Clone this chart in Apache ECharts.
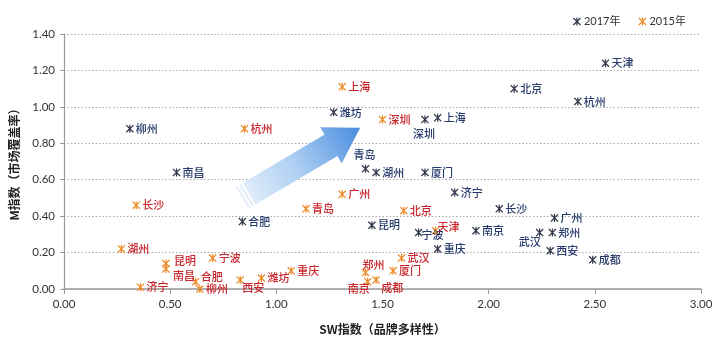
<!DOCTYPE html>
<html>
<head>
<meta charset="utf-8">
<script src="https://cdn.jsdelivr.net/npm/echarts@6/dist/echarts.min.js"></script>
<style>
  html, body { margin: 0; padding: 0; background: #ffffff; }
  #chart { width: 720px; height: 340px; }
</style>
</head>
<body>
<div id="chart"></div>
<script>
// 2017 city scores: SW index (brand diversity) vs M index (market coverage)
const cities2017 = ['天津','北京','杭州','上海','深圳','潍坊','柳州','青岛','湖州','厦门','南昌','合肥','济宁','长沙','广州','郑州','武汉','西安','成都','南京','宁波','重庆','昆明'];
const sw2017 = [2.55, 2.12, 2.42, 1.76, 1.70, 1.27, 0.31, 1.42, 1.47, 1.70, 0.53, 0.84, 1.84, 2.05, 2.31, 2.30, 2.24, 2.29, 2.49, 1.94, 1.67, 1.76, 1.45];
const m2017  = [1.24, 1.10, 1.03, 0.94, 0.93, 0.97, 0.88, 0.66, 0.64, 0.64, 0.64, 0.37, 0.53, 0.44, 0.39, 0.31, 0.31, 0.21, 0.16, 0.32, 0.31, 0.22, 0.35];

// 2015 city scores
const cities2015 = ['上海','杭州','深圳','长沙','湖州','昆明','南昌','宁波','合肥','柳州','济宁','西安','潍坊','重庆','青岛','广州','北京','天津','武汉','厦门','郑州','南京','成都'];
const sw2015 = [1.31, 0.85, 1.50, 0.34, 0.27, 0.48, 0.48, 0.70, 0.62, 0.64, 0.36, 0.83, 0.93, 1.07, 1.14, 1.31, 1.60, 1.75, 1.59, 1.55, 1.42, 1.43, 1.47];
const m2015  = [1.11, 0.88, 0.93, 0.46, 0.22, 0.14, 0.11, 0.17, 0.04, 0.00, 0.01, 0.05, 0.06, 0.10, 0.44, 0.52, 0.43, 0.32, 0.17, 0.10, 0.09, 0.04, 0.05];

const seriesNames = ['2017年', '2015年'];
const xTicks = { min: 0, max: 3, step: 0.5 };
const yTicks = { min: 0, max: 1.4, step: 0.2 };

// label nudges (label centre relative to the marker centre, px) where the default right-side label would collide
const labelShift2017 = { '青岛': [-1, -14], '深圳': [-1, 14], '武汉': [-10, 9], '宁波': [14, 2] };
const labelShift2015 = { '南京': [-9, 7], '郑州': [8, -8], '南昌': [18, 7], '昆明': [19, -3], '西安': [13, 8], '成都': [16, 8], '天津': [13, -4], '合肥': [16, -5] };

// asterisk marker: one vertical bar plus two diagonals
const starPath = 'path://M4.25,0L5.75,0L5.75,10L4.25,10Z M0,1.1L1.1,0L10,8.9L8.9,10Z M8.9,0L10,1.1L1.1,10L0,8.9Z';

const COLOR_2017 = '#30374a';
const LABEL_2017 = '#263a6b';
const COLOR_2015 = '#ee8a25';
const LABEL_2015 = '#c8242b';
const LABEL_FONT = '"Noto Sans CJK SC", "Noto Sans", sans-serif';

function buildPoints(names, xs, ys, shifts) {
  return names.map(function (n, i) {
    const item = { name: n, value: [xs[i], ys[i]] };
    if (shifts[n]) {
      item.label = { position: 'inside', offset: shifts[n], align: 'center', verticalAlign: 'middle' };
    }
    return item;
  });
}

function scatterSeries(name, data, markColor, labelColor) {
  return {
    name: name,
    type: 'scatter',
    symbol: starPath,
    symbolSize: 8,
    itemStyle: { color: markColor, opacity: 1 },
    label: {
      show: true,
      position: 'right',
      distance: 2,
      formatter: '{b}',
      color: labelColor,
      fontFamily: LABEL_FONT,
      fontWeight: 500,
      fontSize: 11
    },
    emphasis: { disabled: true },
    data: data
  };
}

const chart = echarts.init(document.getElementById('chart'), null, { renderer: 'canvas' });

chart.setOption({
  animation: false,
  backgroundColor: '#ffffff',
  grid: { left: 57, right: 19, top: 34, bottom: 51 },
  legend: {
    data: [
      { name: seriesNames[0], icon: starPath },
      { name: seriesNames[1], icon: starPath }
    ],
    top: 11,
    right: 29,
    itemWidth: 8,
    itemHeight: 8,
    itemGap: 18,
    textStyle: { color: '#333333', fontSize: 11, padding: [0, 0, 0, -2], fontFamily: 'Lato, "Noto Sans CJK SC", sans-serif' }
  },
  xAxis: {
    type: 'value',
    min: xTicks.min,
    max: xTicks.max,
    interval: xTicks.step,
    name: 'SW指数（品牌多样性）',
    nameLocation: 'middle',
    nameGap: 34,
    nameTextStyle: { color: '#222222', fontSize: 12, fontWeight: 'bold', fontFamily: LABEL_FONT },
    axisLine: { show: true, lineStyle: { color: '#9a9a9a', width: 1.6 } },
    axisTick: { show: true, length: 5, lineStyle: { color: '#9a9a9a' } },
    axisLabel: {
      margin: 9,
      color: '#333333',
      fontSize: 11.5,
      fontFamily: 'Lato, sans-serif',
      formatter: function (v) { return v.toFixed(2); }
    },
    splitLine: { show: false }
  },
  yAxis: {
    type: 'value',
    min: yTicks.min,
    max: yTicks.max,
    interval: yTicks.step,
    name: 'M指数（市场覆盖率）',
    nameLocation: 'middle',
    nameGap: 44,
    nameTextStyle: { color: '#222222', fontSize: 12, fontWeight: 'bold', fontFamily: LABEL_FONT },
    axisLine: { show: true, lineStyle: { color: '#9a9a9a', width: 1.2 } },
    axisTick: { show: true, length: 4, lineStyle: { color: '#9a9a9a' } },
    axisLabel: {
      margin: 9,
      color: '#333333',
      fontSize: 11.5,
      fontFamily: 'Lato, sans-serif',
      formatter: function (v) { return v.toFixed(2); }
    },
    splitLine: { show: true, lineStyle: { color: '#aaaaaa', type: [1.5, 2], width: 1 } }
  },
  series: [
    scatterSeries(seriesNames[0], buildPoints(cities2017, sw2017, m2017, labelShift2017), COLOR_2017, LABEL_2017),
    scatterSeries(seriesNames[1], buildPoints(cities2015, sw2015, m2015, labelShift2015), COLOR_2015, LABEL_2015)
  ]
});

// trend arrow, anchored in data space and drawn as a striped block arrow
const arrowFrom = [0.84, 0.50];
const arrowTo = [1.395, 0.885];

function drawArrow() {
  const T = chart.convertToPixel({ gridIndex: 0 }, arrowFrom);
  const P = chart.convertToPixel({ gridIndex: 0 }, arrowTo);
  const dx = P[0] - T[0], dy = P[1] - T[1];
  const len = Math.sqrt(dx * dx + dy * dy);
  const u = [dx / len, dy / len];
  const n = [-u[1], u[0]];
  const shaft = 12.5, head = 21, headLen = 34;
  const at = function (along, across) {
    return [T[0] + u[0] * along + n[0] * across, T[1] + u[1] * along + n[1] * across];
  };
  const fill = new echarts.graphic.LinearGradient(T[0], T[1], P[0], P[1], [
    { offset: 0, color: '#e6f0fb' },
    { offset: 0.45, color: '#aecff2' },
    { offset: 1, color: '#4a8de0' }
  ], true);
  const bodyStart = 8;
  const body = [
    at(bodyStart, -shaft), at(len - headLen, -shaft), at(len - headLen, -head),
    at(len, 0),
    at(len - headLen, head), at(len - headLen, shaft), at(bodyStart, shaft)
  ];
  const stripe = function (a, b) {
    return { type: 'polygon', silent: true, z: 1, shape: { points: [at(a, -shaft), at(b, -shaft), at(b, shaft), at(a, shaft)] }, style: { fill: fill } };
  };
  chart.setOption({
    graphic: [
      { type: 'polygon', silent: true, z: 1, shape: { points: body }, style: { fill: fill } },
      stripe(0, 2),
      stripe(4, 6)
    ]
  });
}
drawArrow();
</script>
</body>
</html>
